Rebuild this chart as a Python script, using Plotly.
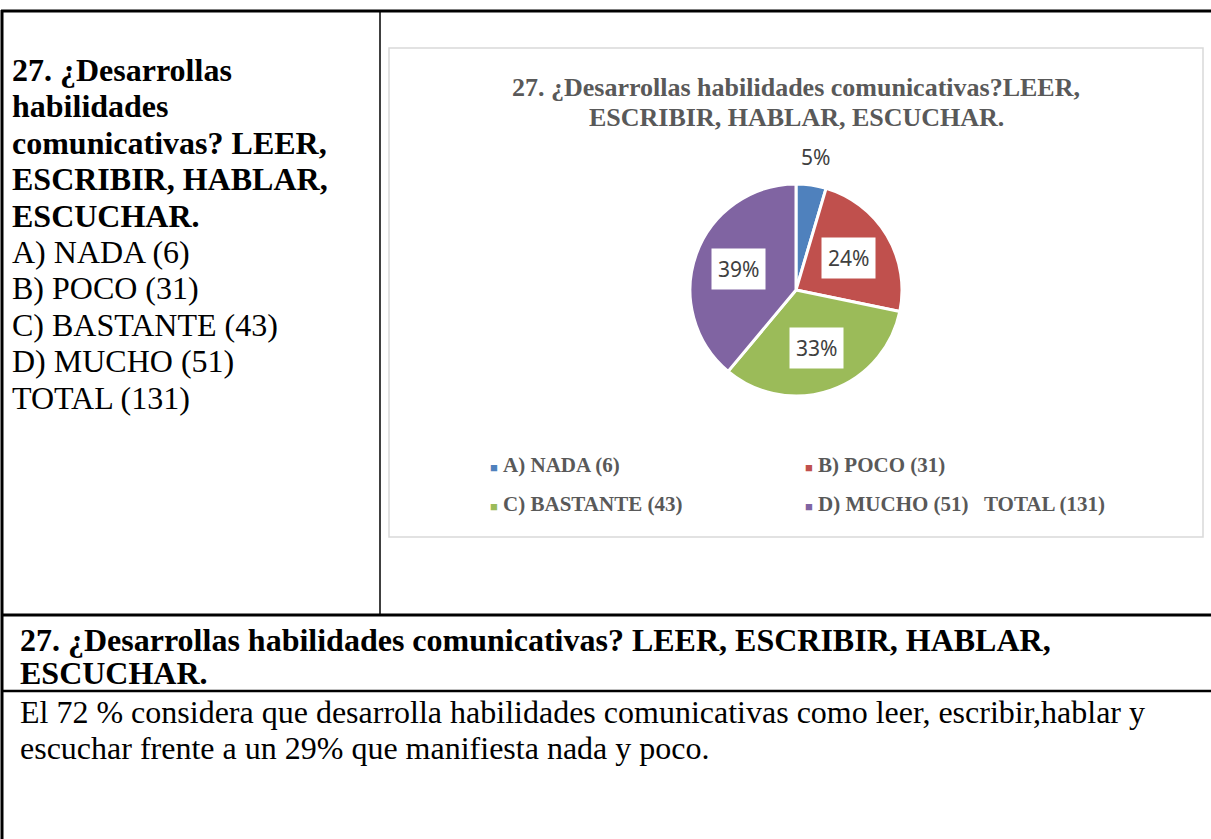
import numpy as np
import plotly.graph_objects as go

W, H = 1211, 839

# data
categories = ["A) NADA (6)", "B) POCO (31)", "C) BASTANTE (43)", "D) MUCHO (51)"]
counts = [6, 31, 43, 51]
total = 131
colors = ["#4F81BD", "#C0504D", "#9BBB59", "#8064A2"]
legend_labels = ["A) NADA (6)", "B) POCO (31)", "C) BASTANTE (43)", "D) MUCHO (51)   TOTAL (131)"]

question_lines = ["27. ¿Desarrollas", "habilidades", "comunicativas? LEER,",
                  "ESCRIBIR, HABLAR,", "ESCUCHAR."]
answer_lines = ["A) NADA (6)", "B) POCO (31)", "C) BASTANTE (43)", "D) MUCHO (51)", "TOTAL (131)"]
header_lines = ["27. ¿Desarrollas habilidades comunicativas? LEER, ESCRIBIR, HABLAR,", "ESCUCHAR."]
body_lines = ["El 72 % considera que desarrolla habilidades comunicativas como leer, escribir,hablar y",
              "escuchar frente a un 29% que manifiesta nada y poco."]
title_lines = ["27. ¿Desarrollas habilidades comunicativas?LEER,", "ESCRIBIR, HABLAR, ESCUCHAR."]

SERIF = "Liberation Serif, Times New Roman, serif"
GREY = "#595959"


def px(x):
    return x / W


def py(y):
    return 1 - y / H


def text(x, y, t, size, color="black", xanchor="left", **kw):
    fig.add_annotation(x=px(x), y=py(y), xref="paper", yref="paper", xanchor=xanchor, yanchor="middle",
                       showarrow=False, text=t, font=dict(family=kw.pop("family", SERIF), size=size, color=color),
                       **kw)


# pie placement (pixels)
cx, cy, r = 796, 290, 106

fig = go.Figure()
fig.add_trace(go.Pie(
    labels=categories,
    values=counts,
    marker=dict(colors=colors, line=dict(color="white", width=3)),
    sort=False,
    direction="clockwise",
    rotation=0,
    textinfo="none",
    hoverinfo="label+value+percent",
    showlegend=False,
    domain=dict(x=[px(cx - r), px(cx + r)], y=[py(cy + r), py(cy - r)]),
))

# percentage labels computed from the data
fracs = np.array(counts) / sum(counts)
starts = np.concatenate([[0], np.cumsum(fracs)[:-1]])
for f, s in zip(fracs, starts):
    th = 2 * np.pi * (s + f / 2)
    d = 0.58 * r if f > 0.1 else 1.27 * r
    text(cx + d * np.sin(th), cy - d * np.cos(th), f"{round(100 * f)}%", 21, "#404040", xanchor="center",
         family="Noto Sans, Open Sans, sans-serif",
         bgcolor="white" if f > 0.1 else "rgba(0,0,0,0)", borderpad=6)

# chart title
for i, t in enumerate(title_lines):
    text(796, 87 + i * 30, f"<b>{t}</b>", 26, GREY, xanchor="center")

# legend
leg_pos = [(488, 465), (803, 465), (488, 504), (803, 504)]
for (lx, ly), lab, c in zip(leg_pos, legend_labels, colors):
    text(lx, ly, f"<span style='color:{c};font-size:13px'>■</span> <b>{lab}</b>", 21, GREY)

# left cell text
y0, step = 70, 36.4
for i, t in enumerate(question_lines + answer_lines):
    text(10, y0 + i * step, f"<b>{t}</b>" if i < len(question_lines) else t, 32)

# bottom rows
for i, t in enumerate(header_lines):
    text(18, 640 + i * 33, f"<b>{t}</b>", 32)
for i, t in enumerate(body_lines):
    text(18, 712 + i * 36, t, 32)


# table lines
def hline(y, x0, x1, w):
    fig.add_shape(type="line", xref="paper", yref="paper", x0=px(x0), x1=px(x1), y0=py(y), y1=py(y),
                  line=dict(color="black", width=w))


def vline(x, y0_, y1_, w):
    fig.add_shape(type="line", xref="paper", yref="paper", x0=px(x), x1=px(x), y0=py(y0_), y1=py(y1_),
                  line=dict(color="black", width=w))


hline(11, 1, W, 3)
hline(615, 1, W, 3)
hline(691, 1, W, 2.5)
vline(2, 10, H, 3)
vline(380, 11, 615, 1.5)

# chart frame
fig.add_shape(type="rect", xref="paper", yref="paper", x0=px(389), x1=px(1203), y0=py(48), y1=py(537),
              line=dict(color="#D9D9D9", width=1.5))

fig.update_layout(
    width=W, height=H,
    margin=dict(l=0, r=0, t=0, b=0),
    paper_bgcolor="white", plot_bgcolor="white",
)

fig.write_html("out.html", config={"displayModeBar": False},
               post_script="document.body.style.margin='0';")
